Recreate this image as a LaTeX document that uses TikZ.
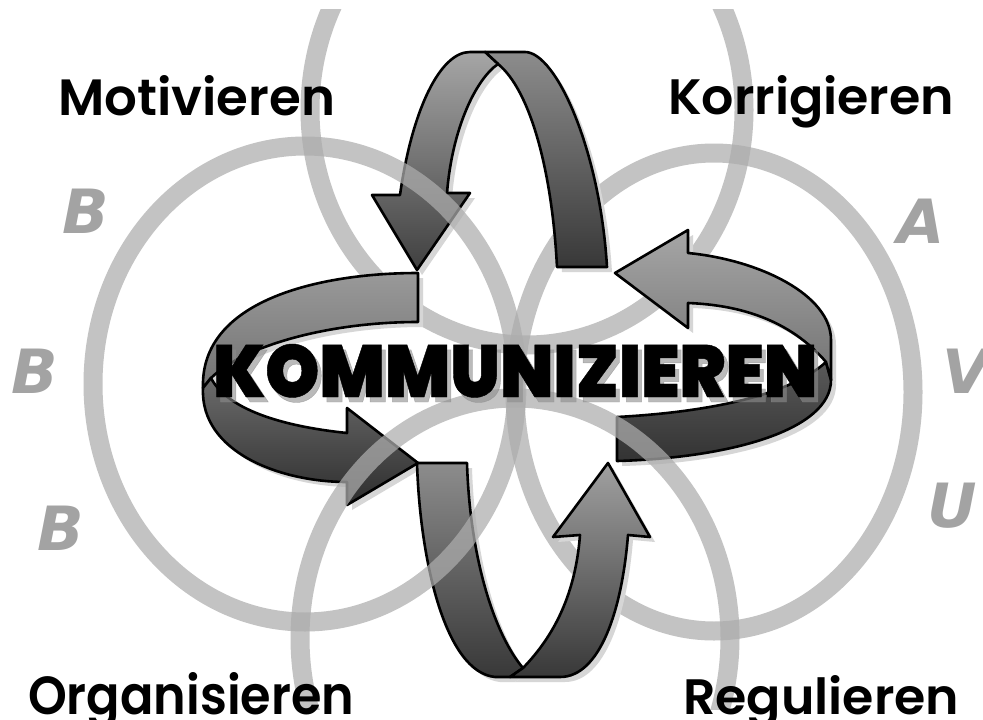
\documentclass[tikz,border=0pt]{standalone}
\usepackage{fontspec}
\setmainfont{Poppins}
\newfontfamily\kfont{Poppins Black}[FakeBold=0.6]
\newfontfamily\labfont{Poppins SemiBold}
\newfontfamily\lfont{DejaVu Sans}
\usepackage{graphicx}
\definecolor{ringgray}{gray}{0.68}
\definecolor{lettergray}{gray}{0.64}
% arrow pieces (pixel coordinates, y downwards)
\newcommand\pTAright{(485,52) -- (525,52) .. controls (556,52) and (600,150) .. (607,267) -- (557,267) .. controls (552,170) and (530,90) .. (498,64) -- cycle}
\newcommand\pTAleft{(400,195) .. controls (412,110) and (440,52) .. (470,52) -- (485,52) -- (498,64) .. controls (475,80) and (452,130) .. (447,193) -- (470,193) -- (417,270) -- (372,195) -- cycle}
\newcommand\pLAupper{(418,273) -- (418,322) .. controls (330,322) and (245,345) .. (211,378) -- (203,388) .. controls (200,300) and (320,273) .. (418,273) -- cycle}
\newcommand\pLAlower{(203,388) .. controls (200,452) and (280,482) .. (347,482) -- (347,505) -- (418,463) -- (347,408) -- (347,433) .. controls (270,425) and (225,405) .. (211,378) -- cycle}
\newcommand\pRAlower{(617,417) -- (617,461) .. controls (730,458) and (831,430) .. (831,380) -- (826,362) .. controls (790,395) and (710,412) .. (617,417) -- cycle}
\newcommand\pRAupper{(615,273) -- (688,230) -- (688,253) .. controls (760,260) and (831,295) .. (831,340) -- (831,380) -- (826,362) .. controls (790,320) and (740,305) .. (688,303) -- (688,328) -- cycle}
\newcommand\pBAleft{(417,463) -- (467,463) .. controls (470,560) and (495,635) .. (523,668) -- (510,677) -- (495,677) .. controls (445,672) and (420,560) .. (417,463) -- cycle}
\newcommand\pBAright{(608,463) -- (650,537) -- (628,535) .. controls (622,610) and (600,677) .. (560,677) -- (510,677) -- (523,668) .. controls (550,640) and (575,600) .. (580,535) -- (553,537) -- cycle}
\begin{document}
\begin{tikzpicture}[x=1pt,y=-1pt,
  ringline/.style={draw=ringgray, line width=19pt, draw opacity=0.73},
  piece/.style={draw=black, line width=2.6pt, line join=round},
  arrshadow/.style={fill=black!16, shift={(5,5)}},
  lbl/.style={inner sep=0pt, anchor=base west, text=black},
  letter/.style={inner sep=0pt, anchor=base west, text=lettergray,
    font=\lfont\bfseries\itshape\fontsize{61}{61}\selectfont}]
\useasboundingbox (0,0) rectangle (983,720);
\fill[white] (0,0) rectangle (983,720);
% rings behind the arrows
\begin{scope}
  \clip (0,9) rectangle (983,720);
  \draw[ringline] (527,110) ellipse [x radius=217, y radius=235];
\end{scope}
\draw[ringline] (714,392) ellipse [x radius=199, y radius=239];
% arrow shadows
\fill[arrshadow] \pTAright; \fill[arrshadow] \pTAleft;
\fill[arrshadow] \pLAupper; \fill[arrshadow] \pLAlower;
\fill[arrshadow] \pRAlower; \fill[arrshadow] \pRAupper;
\fill[arrshadow] \pBAleft; \fill[arrshadow] \pBAright;
% arrows
\path[piece, top color=black!45, bottom color=black!78] \pTAright;
\path[piece, top color=black!35, bottom color=black!75] \pTAleft;
\path[piece, top color=black!40, bottom color=black!55] \pLAupper;
\path[piece, top color=black!58, bottom color=black!82] \pLAlower;
\path[piece, top color=black!65, bottom color=black!80] \pRAlower;
\path[piece, top color=black!35, bottom color=black!55] \pRAupper;
\path[piece, top color=black!45, bottom color=black!78] \pBAleft;
\path[piece, top color=black!37, bottom color=black!78] \pBAright;
% rings in front of the arrows
\draw[ringline] (305,384) ellipse [x radius=212, y radius=238];
\begin{scope}
  \clip (0,0) rectangle (983,709);
  \draw[ringline] (515,638) ellipse [x radius=215, y radius=240];
\end{scope}
% central word
\node[lbl, text=black!45, opacity=0.6] (kshadow) at (217,402)
  {\resizebox{604pt}{53pt}{\kfont KOMMUNIZIEREN}};
\node[lbl] (kword) at (213,397)
  {\resizebox{604pt}{53pt}{\kfont KOMMUNIZIEREN}};
% corner labels
\node[lbl] (motiv) at (58,115) {\resizebox{277pt}{40pt}{\labfont Motivieren}};
\node[lbl] (korr) at (668,114) {\resizebox{286pt}{39pt}{\labfont Korrigieren}};
\node[lbl] (orga) at (28,714) {\resizebox{326pt}{42pt}{\labfont Organisieren}};
\node[lbl] (regu) at (683,714) {\resizebox{276pt}{39pt}{\labfont Regulieren}};
% side letters
\node[letter] (b1) at (62,233) {B};
\node[letter] (b2) at (11,393) {B};
\node[letter] (b3) at (37,550) {B};
\node[letter] (la) at (897,243) {A};
\node[letter] (lv) at (942,393) {V};
\node[letter] (lu) at (927,527) {U};
\end{tikzpicture}
\end{document}
